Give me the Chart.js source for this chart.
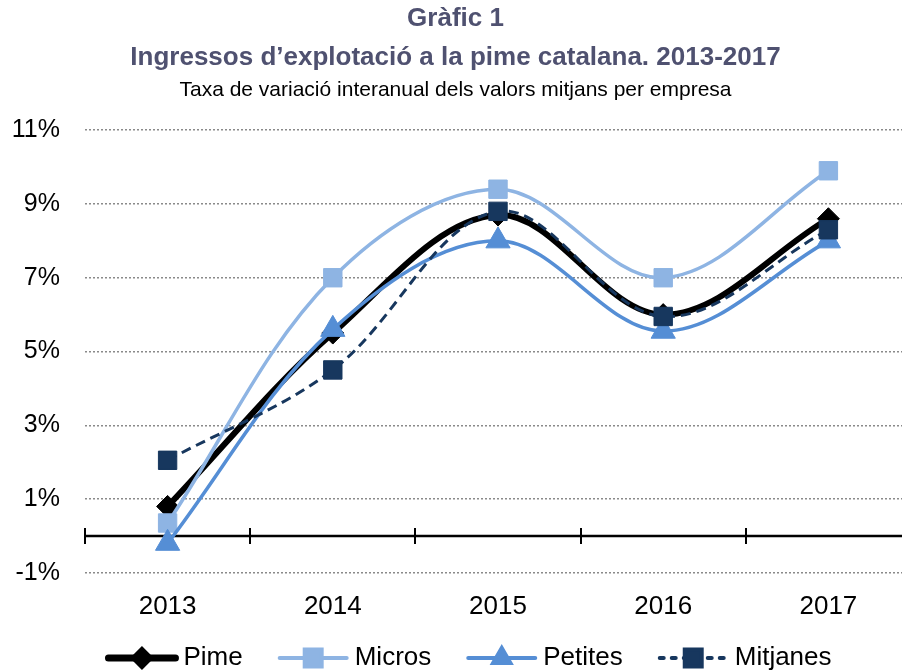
<!DOCTYPE html>
<html>
<head>
<meta charset="utf-8">
<script src="https://cdn.jsdelivr.net/npm/chart.js@4.4.0/dist/chart.umd.min.js"></script>
<style>
  html, body { margin: 0; padding: 0; background: #fff; overflow: hidden; }
  #wrap { width: 902px; height: 672px; overflow: hidden; }
</style>
</head>
<body>
<div id="wrap"><canvas id="chart" width="934" height="672"></canvas></div>
<script>
// Data (% change)
const years = ['2013', '2014', '2015', '2016', '2017'];
const pime = [0.8, 5.5, 8.7, 6.0, 8.6];
const micros = [0.35, 7.0, 9.4, 7.0, 9.9];
const petites = [-0.2, 5.6, 8.0, 5.55, 8.0];
const mitjanes = [2.05, 4.5, 8.8, 5.95, 8.3];
const yMin = -1;
const yMax = 11;
const yStep = 2;

const FONT = '"Liberation Sans", Arial, sans-serif';

// Black axis at 0% with tick marks between the years
const zeroAxis = {
  id: 'zeroAxis',
  beforeDatasetsDraw(chart) {
    const { ctx, chartArea, scales: { x, y } } = chart;
    const y0 = y.getPixelForValue(0);
    const half = (x.getPixelForValue(1) - x.getPixelForValue(0)) / 2;
    ctx.save();
    ctx.strokeStyle = '#000';
    ctx.lineWidth = 2.5;
    ctx.beginPath();
    ctx.moveTo(chartArea.left, y0);
    ctx.lineTo(chartArea.right, y0);
    ctx.stroke();
    ctx.lineWidth = 2;
    ctx.beginPath();
    for (let i = 0; i <= years.length; i++) {
      const px = Math.round(x.getPixelForValue(i) - half);
      ctx.moveTo(px, y0 - 8);
      ctx.lineTo(px, y0 + 8);
    }
    ctx.stroke();
    ctx.restore();
  }
};

// Legend with a line sample and marker, like the original
const lineLegend = {
  id: 'lineLegend',
  afterDraw(chart) {
    const ctx = chart.ctx;
    const sets = chart.data.datasets;
    const sample = 71, gapText = 6, gapItem = 35;
    ctx.save();
    ctx.font = '26px ' + FONT;
    const widths = sets.map(ds => sample + gapText + ctx.measureText(ds.label).width);
    const total = widths.reduce((a, b) => a + b, 0) + gapItem * (sets.length - 1);
    let x = chart.width / 2 - total / 2 + 2;
    const yc = chart.height - 14;
    sets.forEach((ds, i) => {
      ctx.save();
      ctx.strokeStyle = ds.borderColor;
      ctx.lineWidth = ds.legendWidth;
      ctx.lineCap = 'round';
      ctx.setLineDash(ds.legendDash || []);
      ctx.beginPath();
      ctx.moveTo(x + 2, yc);
      ctx.lineTo(x + sample - 2, yc);
      ctx.stroke();
      ctx.setLineDash([]);
      ctx.fillStyle = ds.pointBackgroundColor;
      ctx.strokeStyle = ds.pointBorderColor;
      Chart.helpers.drawPoint(ctx, {
        pointStyle: ds.pointStyle,
        radius: ds.legendRadius,
        rotation: 0,
        borderWidth: 1
      }, x + sample / 2, yc);
      ctx.restore();
      ctx.fillStyle = '#000';
      ctx.textAlign = 'left';
      ctx.textBaseline = 'middle';
      ctx.fillText(ds.label, x + sample + gapText, yc);
      x += widths[i] + gapItem;
    });
    ctx.restore();
  }
};

new Chart(document.getElementById('chart'), {
  type: 'line',
  data: {
    labels: years,
    datasets: [
      {
        label: 'Pime', data: pime, order: 4,
        borderColor: '#000', borderWidth: 6, legendWidth: 7,
        pointStyle: 'rectRot', pointRadius: 11, legendRadius: 7,
        pointBackgroundColor: '#000', pointBorderColor: '#000', pointBorderWidth: 1
      },
      {
        label: 'Micros', data: micros, order: 3,
        borderColor: '#8EB4E3', borderWidth: 3.5, legendWidth: 4,
        pointStyle: 'rect', pointRadius: 13, legendRadius: 12,
        pointBackgroundColor: '#8EB4E3', pointBorderColor: '#8EB4E3', pointBorderWidth: 1
      },
      {
        label: 'Petites', data: petites, order: 2,
        borderColor: '#558ED5', borderWidth: 3.5, legendWidth: 4,
        pointStyle: 'triangle', pointRadius: 14, legendRadius: 10,
        pointBackgroundColor: '#558ED5', pointBorderColor: '#558ED5', pointBorderWidth: 1
      },
      {
        label: 'Mitjanes', data: mitjanes, order: 1,
        borderColor: '#17375E', borderWidth: 3, borderDash: [10, 6],
        legendWidth: 4, legendDash: [4, 8],
        pointStyle: 'rect', pointRadius: 13, legendRadius: 12,
        pointBackgroundColor: '#17375E', pointBorderColor: '#17375E', pointBorderWidth: 1
      }
    ]
  },
  options: {
    responsive: false,
    animation: false,
    layout: { padding: { left: 0, right: 23, top: 0, bottom: 32 } },
    elements: { line: { tension: 0.35, fill: false } },
    plugins: {
      legend: { display: false },
      tooltip: { enabled: false },
      title: {
        display: true,
        text: ['Gràfic 1', 'Ingressos d\u2019explotació a la pime catalana. 2013-2017'],
        color: '#4F5170',
        font: { family: FONT, size: 26, weight: 'bold', lineHeight: 1.5 },
        padding: { top: -1, bottom: 0 }
      },
      subtitle: {
        display: true,
        text: 'Taxa de variació interanual dels valors mitjans per empresa',
        color: '#000',
        font: { family: FONT, size: 21, lineHeight: 1.2 },
        padding: { top: 1, bottom: 27 }
      }
    },
    scales: {
      x: {
        offset: true,
        grid: { display: false, drawTicks: false },
        border: { display: false },
        ticks: { color: '#000', padding: 18, font: { family: FONT, size: 26 } }
      },
      y: {
        min: yMin,
        max: yMax,
        afterFit(scale) { scale.width = 85; },
        grid: { color: '#8A8A8A', lineWidth: 1.5, drawTicks: false },
        border: { display: false, dash: [2, 2] },
        ticks: {
          stepSize: yStep,
          color: '#000',
          padding: 25,
          font: { family: FONT, size: 25 },
          callback: v => v + '%'
        }
      }
    }
  },
  plugins: [zeroAxis, lineLegend]
});
</script>
</body>
</html>
